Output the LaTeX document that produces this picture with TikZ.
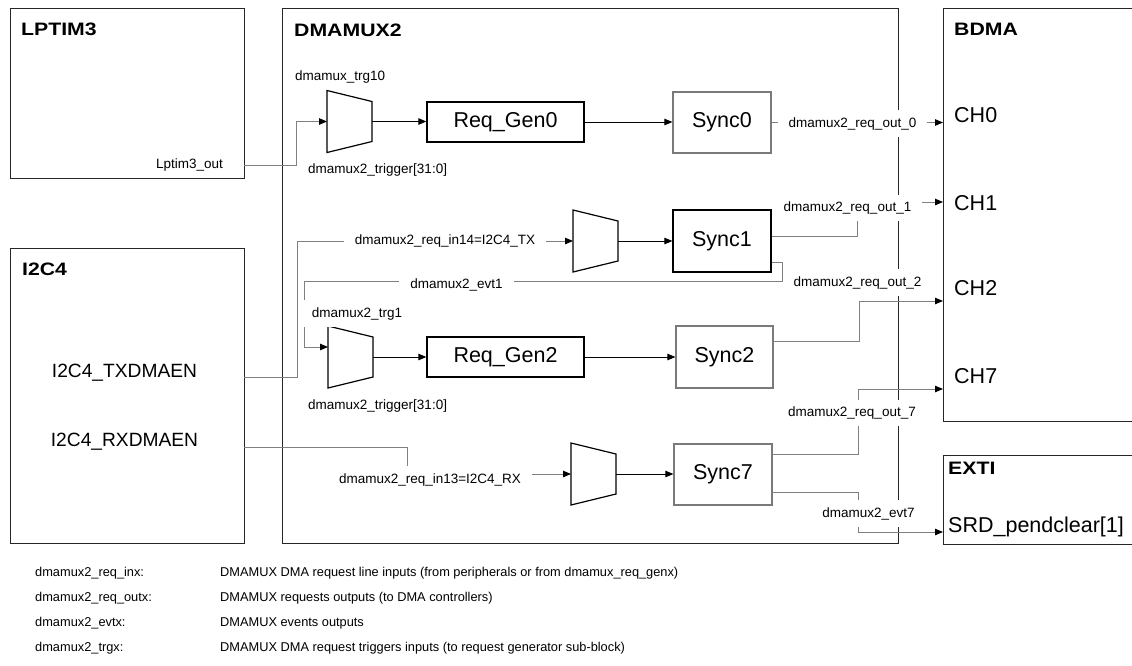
\documentclass[tikz,border=0pt]{standalone}
\usepackage{fontspec}
\setmainfont{Liberation Sans}
\newfontfamily\titlefont[FakeStretch=1.18]{Liberation Sans}
\usetikzlibrary{arrows.meta,calc}
\definecolor{boxc}{HTML}{262626}
\definecolor{gline}{HTML}{808080}
\definecolor{syncc}{HTML}{7A7A7A}
\newcommand\fsmall{\fontsize{13.5}{16}\selectfont}
\newcommand\fbig{\fontsize{21.5}{25}\selectfont}
\newcommand\fmid{\fontsize{19.2}{23}\selectfont}
\newcommand\ftitle{\titlefont\bfseries\fontsize{18}{22}\selectfont}
\newcommand\flegend{\fontsize{12.8}{15}\selectfont}
\tikzset{
  mux/.pic={
    \draw[black,line width=1.2pt,line join=miter] (-22.5,-31) -- (22.5,-20) -- (22.5,20) -- (-22.5,31) -- cycle;
    \coordinate (-in) at (-22.5,0);
    \coordinate (-inup) at (-22.5,-10);
    \coordinate (-out) at (22.5,0);
  }
}
\begin{document}
\begin{tikzpicture}[x=1pt,y=-1pt,
  box/.style={draw=boxc,line width=1.4pt,inner sep=0,anchor=north west},
  blk/.style={draw=black,line width=1.3pt,minimum width=157pt,minimum height=40pt,inner sep=0,font=\fbig},
  syncg/.style={draw=syncc,line width=1.2pt,minimum width=98pt,minimum height=61pt,inner sep=0,font=\fbig},
  syncb/.style={syncg,draw=black},
  ttl/.style={anchor=base west,inner sep=0,font=\ftitle},
  bigtxt/.style={anchor=base west,inner sep=0,font=\fbig},
  lbl/.style={anchor=base west,inner sep=0,font=\fsmall},
  cutlbl/.style={anchor=base,fill=white,inner xsep=11pt,inner ysep=7pt,font=\fsmall},
  garr/.style={draw=gline,line width=1pt,-{Triangle[length=8pt,width=6.5pt,color=black]}},
  gln/.style={draw=gline,line width=1pt},
  barr/.style={draw=black,line width=0.9pt,-{Triangle[length=8pt,width=6.5pt]}},
  legtxt/.style={anchor=base west,inner sep=0,font=\flegend},
]
\useasboundingbox (0,0) rectangle (1132,665);
\clip (0,0) rectangle (1132,665);

% outer blocks
\node[box,minimum width=234pt,minimum height=170pt] (lptim) at (10,8) {};
\node[box,minimum width=234pt,minimum height=295pt] (i2c) at (10,248) {};
\node[box,minimum width=616pt,minimum height=535pt] (dmx) at (282,8) {};
\node[box,minimum width=220pt,minimum height=413pt] (bdma) at (943,8) {};
\node[box,minimum width=220pt,minimum height=89pt] (exti) at (943,455) {};

% titles
\node[ttl] (tlptim) at (21,35) {LPTIM3};
\node[ttl] (tdmx) at (294,36) {DMAMUX2};
\node[ttl] (tbdma) at (954,35) {BDMA};
\node[ttl] (ti2c) at (22,275) {I2C4};
\node[ttl] (texti) at (948,474) {EXTI};

% peripheral texts
\node[anchor=base,inner sep=0,font=\fmid] (txen) at (124.5,377) {I2C4\_TXDMAEN};
\node[anchor=base,inner sep=0,font=\fmid] (rxen) at (124.5,446) {I2C4\_RXDMAEN};
\node[lbl,anchor=base east] (lpout) at (223,168) {Lptim3\_out};
\node[bigtxt] (c0) at (954,122) {CH0};
\node[bigtxt] (c1) at (954,210) {CH1};
\node[bigtxt] (c2) at (954,295) {CH2};
\node[bigtxt] (c7) at (954,383) {CH7};
\node[bigtxt] (srdt) at (948,532) {SRD\_pendclear[1]};

% inner blocks
\node[blk] (rg0) at (505.5,122) {Req\_Gen0};
\node[blk] (rg2) at (505.5,357) {Req\_Gen2};
\node[syncg] (s0) at (722,122.5) {Sync0};
\node[syncb,minimum height=62pt] (s1) at (722,241) {Sync1};
\node[syncg,minimum height=62pt,minimum width=97pt] (s2) at (724.5,357) {Sync2};
\node[syncg] (s7) at (723,474.5) {Sync7};

\pic (m0) at (349.5,121.5) {mux};
\pic (m1) at (595.5,241) {mux};
\pic (m2) at (350.5,357) {mux};
\pic (m7) at (593.5,474) {mux};

% ports
\coordinate (lpport) at (244,165);
\coordinate (txport) at (244,377);
\coordinate (rxport) at (244,447);
\coordinate (ch0) at (943,122.5);
\coordinate (ch1) at (943,202);
\coordinate (ch2) at (943,301);
\coordinate (ch7) at (943,389);
\coordinate (srd) at (943,532);

% black internal arrows
\draw[barr] (m0-out) -- (m0-out -| rg0.west);
\draw[barr] (rg0.east) -- (rg0.east -| s0.west);
\draw[barr] (m1-out) -- (m1-out -| s1.west);
\draw[barr] (m2-out) -- (m2-out -| rg2.west);
\draw[barr] (rg2.east) -- (rg2.east -| s2.west);
\draw[barr] (m7-out) -- (m7-out -| s7.west);

% gray connectors
\draw[garr] (lpport) -| ($(m0-in)+(-31,0)$) -- (m0-in);
\draw[garr] (txport) -| ($(m1-in)+(-276,0)$) -- (m1-in);
\draw[garr] (rxport) -| ($(m7-in)+(-164,0)$) -- (m7-in);
\draw[garr] ($(s1.east)+(0,21)$) -- ++(11,0) -- ++(0,19) -| ($(m2-inup)+(-24,0)$) -- (m2-inup);
\draw[garr] (s0.east) -- (ch0);
\draw[garr] ($(s1.east)+(0,-5)$) -- ++(86,0) |- (ch1);
\draw[garr] ($(s2.east)+(0,-16)$) -- ++(86,0) |- (ch2);
\draw[garr] ($(s7.east)+(0,-20.5)$) -- ++(86,0) |- (ch7);
\draw[garr] ($(s7.east)+(0,17.5)$) -- ++(86,0) |- (srd);

% signal labels
\node[lbl] (trg10) at (295,80) {dmamux\_trg10};
\node[lbl] (trig0) at (308,173) {dmamux2\_trigger[31:0]};
\node[lbl] (trig2) at (308,409) {dmamux2\_trigger[31:0]};
\node[cutlbl] (in14) at (445,244) {dmamux2\_req\_in14=I2C4\_TX};
\node[cutlbl] (evt1) at (456.5,288) {dmamux2\_evt1};
\node[cutlbl] (trg1) at (357,317) {dmamux2\_trg1};
\node[cutlbl] (in13) at (430,483) {dmamux2\_req\_in13=I2C4\_RX};
\node[cutlbl] (out0) at (852.5,127) {dmamux2\_req\_out\_0};
\node[cutlbl] (out1) at (847.5,211.5) {dmamux2\_req\_out\_1};
\node[cutlbl] (out2) at (857.5,286) {dmamux2\_req\_out\_2};
\node[cutlbl] (out7) at (852,416.5) {dmamux2\_req\_out\_7};
\node[cutlbl] (evt7) at (868.5,517) {dmamux2\_evt7};

% legend
\node[legtxt] (l1a) at (35,576) {dmamux2\_req\_inx:};
\node[legtxt] (l1b) at (220,576) {DMAMUX DMA request line inputs (from peripherals or from dmamux\_req\_genx)};
\node[legtxt] (l2a) at (35,601) {dmamux2\_req\_outx:};
\node[legtxt] (l2b) at (220,601) {DMAMUX requests outputs (to DMA controllers)};
\node[legtxt] (l3a) at (35,626) {dmamux2\_evtx:};
\node[legtxt] (l3b) at (220,626) {DMAMUX events outputs};
\node[legtxt] (l4a) at (35,651) {dmamux2\_trgx:};
\node[legtxt] (l4b) at (220,651) {DMAMUX DMA request triggers inputs (to request generator sub-block)};
\end{tikzpicture}
\end{document}
